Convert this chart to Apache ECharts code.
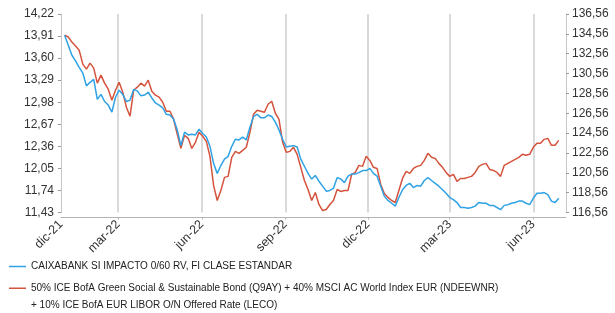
<!DOCTYPE html>
<html>
<head>
<meta charset="utf-8">
<script src="https://cdn.jsdelivr.net/npm/echarts@6/dist/echarts.min.js"></script>
<style>
	html, body { margin: 0; padding: 0; background: #fff; }
	#main { width: 615px; height: 313px; }
</style>
</head>
<body>
<div id="main"></div>
<script>
// axis range (daily categories) and quarter labels
const axisStart = '2021-12-28'
const axisEnd = '2023-07-07'
const monthNames = ['ene', 'feb', 'mar', 'abr', 'may', 'jun', 'jul', 'ago', 'sep', 'oct', 'nov', 'dic']
const quarterMonths = [2, 5, 8, 11]

const leftTicks = [11.43, 11.74, 12.05, 12.36, 12.67, 12.98, 13.29, 13.60, 13.91, 14.22]
const rightTicks = [116.56, 118.56, 120.56, 122.56, 124.56, 126.56, 128.56, 130.56, 132.56, 134.56, 136.56]

const fundName = 'CAIXABANK SI IMPACTO 0/60 RV, FI CLASE ESTANDAR'
const benchName = '50% ICE BofA Green Social & Sustainable Bond (Q9AY) + 40% MSCI AC World Index EUR (NDEEWNR)\n+ 10% ICE BofA EUR LIBOR O/N Offered Rate (LECO)'

// values sampled every 4 days starting 2022-01-01
const sampleStart = '2022-01-01'
const sampleStep = 4

const fundValues = [
	13.92, 13.78, 13.64, 13.56, 13.47, 13.39, 13.21, 13.26, 13.30, 13.02,
	13.09, 12.99, 12.94, 12.84, 13.05, 13.15, 13.09, 12.99, 13.01, 13.16,
	13.14, 13.07, 13.08, 13.12, 13.04, 12.97, 12.94, 12.90, 12.81, 12.80,
	12.74, 12.59, 12.37, 12.56, 12.52, 12.53, 12.52, 12.60, 12.54, 12.49,
	12.36, 12.12, 11.98, 12.09, 12.18, 12.22, 12.36, 12.46, 12.45, 12.49,
	12.45, 12.63, 12.78, 12.81, 12.76, 12.76, 12.80, 12.78, 12.70, 12.59,
	12.46, 12.35, 12.36, 12.37, 12.35, 12.18, 12.08, 11.98, 11.90, 11.95,
	11.87, 11.80, 11.73, 11.74, 11.77, 11.92, 11.90, 11.85, 11.94, 11.97,
	11.97, 11.99, 12.02, 12.02, 12.05, 11.98, 11.94, 11.80, 11.66, 11.60,
	11.56, 11.52, 11.64, 11.75, 11.81, 11.84, 11.78, 11.81, 11.80, 11.88,
	11.92, 11.88, 11.84, 11.80, 11.75, 11.70, 11.64, 11.61, 11.57, 11.50,
	11.50, 11.49, 11.50, 11.52, 11.57, 11.56, 11.56, 11.53, 11.53, 11.50,
	11.47, 11.53, 11.54, 11.56, 11.57, 11.59, 11.59, 11.56, 11.54, 11.63,
	11.70, 11.70, 11.71, 11.68, 11.59, 11.57, 11.63
]

const benchValues = [
	134.44, 134.24, 133.73, 133.33, 132.92, 131.51, 131.00, 131.61, 131.11, 129.59,
	130.40, 129.59, 128.98, 127.87, 128.88, 129.69, 128.68, 127.17, 126.26, 128.88,
	129.19, 129.59, 129.29, 129.89, 128.78, 128.38, 128.18, 127.67, 126.76, 126.76,
	125.95, 124.44, 123.02, 124.34, 124.03, 123.02, 123.63, 124.64, 124.24, 123.73,
	122.22, 119.29, 117.77, 118.78, 120.10, 120.20, 122.12, 122.72, 122.52, 122.82,
	123.13, 124.64, 126.46, 126.86, 126.76, 126.66, 127.47, 127.77, 126.56, 125.95,
	123.63, 122.62, 122.72, 123.13, 122.42, 121.11, 119.79, 118.88, 117.77, 118.58,
	117.37, 116.76, 116.86, 117.37, 117.77, 118.88, 118.68, 118.78, 118.78, 120.40,
	120.60, 121.31, 121.21, 122.22, 121.81, 121.11, 121.00, 119.39, 118.48, 118.08,
	117.77, 117.57, 118.78, 119.99, 120.70, 120.50, 121.00, 121.21, 121.31, 121.81,
	122.52, 122.12, 122.01, 121.51, 121.11, 120.60, 120.20, 120.40, 119.69, 119.99,
	119.99, 120.10, 120.20, 120.60, 121.21, 121.41, 121.51, 120.90, 120.80, 120.60,
	120.20, 121.31, 121.51, 121.71, 121.91, 122.12, 122.42, 122.32, 122.42, 123.13,
	123.53, 123.53, 123.93, 124.03, 123.33, 123.33, 123.83
]

const DAY = 86400000
const toTime = s => Date.parse(s + 'T00:00:00Z')
const fmtDate = t => new Date(t).toISOString().slice(0, 10)

const days = []
for (let t = toTime(axisStart); t <= toTime(axisEnd); t += DAY) days.push(fmtDate(t))

const firstIdx = (toTime(sampleStart) - toTime(axisStart)) / DAY
const toPoints = vals => vals.map((v, i) => [firstIdx + i * sampleStep, v])

const isQuarterStart = d => d.slice(8) === '01' && quarterMonths.includes(+d.slice(5, 7) - 1)
const dateLabel = d => monthNames[+d.slice(5, 7) - 1] + '-' + d.slice(2, 4)
const fmtNum = v => v.toFixed(2).replace('.', ',')

const font = 'Liberation Sans, Arial, sans-serif'
const chart = echarts.init(document.getElementById('main'))

const legendText = { fontSize: 10, color: '#222', fontFamily: font }

chart.setOption({
	animation: false,
	textStyle: { fontFamily: font },
	grid: { left: 61, right: 49, top: 14, bottom: 100.5, containLabel: false },
	legend: [
		{
			left: 9, top: 258, padding: 0, orient: 'vertical',
			data: [fundName],
			icon: 'rect', itemWidth: 17, itemHeight: 1.5,
			textStyle: Object.assign({ lineHeight: 17 }, legendText),
		},
		{
			// blank first line keeps the icon level with the first text line
			left: 9, top: 263.5, padding: 0, orient: 'vertical',
			data: [benchName],
			icon: 'rect', itemWidth: 17, itemHeight: 1.5,
			formatter: name => ' \n' + name,
			textStyle: Object.assign({ lineHeight: 16.5 }, legendText),
		},
	],
	xAxis: {
		type: 'category',
		data: days,
		boundaryGap: false,
		offset: 5,
		axisLine: { lineStyle: { color: '#b4b4b4', width: 1 } },
		axisTick: {
			show: true,
			length: 2,
			interval: (i, d) => i !== 0 && isQuarterStart(d),
			lineStyle: { color: '#b4b4b4' },
		},
		axisLabel: {
			rotate: 45,
			fontSize: 12.5,
			color: '#333',
			margin: 5,
			interval: (i, d) => i === 0 || isQuarterStart(d),
			formatter: d => dateLabel(d),
		},
		splitLine: {
			show: true,
			interval: (i, d) => i !== 0 && isQuarterStart(d),
			lineStyle: { color: '#cdcdcd', width: 1.5 },
		},
	},
	yAxis: [
		{
			type: 'value',
			min: leftTicks[0],
			max: leftTicks[leftTicks.length - 1],
			position: 'left',
			axisLine: { show: true, lineStyle: { color: '#c8c8c8' } },
			axisTick: { show: true, length: 3, customValues: leftTicks, lineStyle: { color: '#999' } },
			axisLabel: { customValues: leftTicks, formatter: fmtNum, fontSize: 12, color: '#333', margin: 7 },
			splitLine: { show: false },
		},
		{
			type: 'value',
			min: rightTicks[0],
			max: rightTicks[rightTicks.length - 1],
			position: 'right',
			axisLine: { show: true, lineStyle: { color: '#c8c8c8' } },
			axisTick: { show: true, length: 3, customValues: rightTicks, lineStyle: { color: '#999' } },
			axisLabel: { customValues: rightTicks, formatter: fmtNum, fontSize: 12, color: '#333', margin: 6 },
			splitLine: { show: false },
		},
	],
	series: [
		{
			name: fundName,
			type: 'line',
			yAxisIndex: 0,
			data: toPoints(fundValues),
			showSymbol: false,
			z: 3,
			color: '#2ea2e4',
			lineStyle: { width: 1.5 },
		},
		{
			name: benchName,
			type: 'line',
			yAxisIndex: 1,
			data: toPoints(benchValues),
			showSymbol: false,
			z: 2,
			color: '#d5533d',
			lineStyle: { width: 1.5 },
		},
	],
})
</script>
</body>
</html>
